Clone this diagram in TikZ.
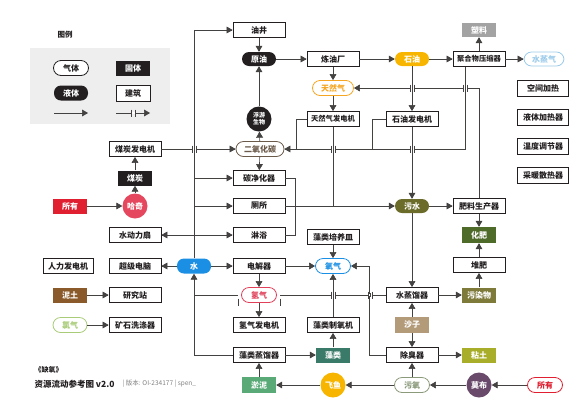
\documentclass[tikz,border=0pt]{standalone}
\usepackage{fontspec}
\setmainfont{Noto Sans CJK SC}
\usetikzlibrary{positioning,arrows}
\definecolor{ink}{HTML}{231F20}
\definecolor{legbg}{HTML}{EEEEEE}
\definecolor{petrol}{HTML}{F7B500}
\definecolor{ngas}{HTML}{F5A623}
\definecolor{plastc}{HTML}{A3A3A3}
\definecolor{steamc}{HTML}{9CCBEA}
\definecolor{co2c}{HTML}{6B5A4A}
\definecolor{waterc}{HTML}{1A8FE3}
\definecolor{hydc}{HTML}{E0405A}
\definecolor{sewc}{HTML}{6B6B2A}
\definecolor{fertc}{HTML}{4F6B2A}
\definecolor{pdirtc}{HTML}{7D7A3A}
\definecolor{sandc}{HTML}{B39B7A}
\definecolor{clayc}{HTML}{A8AE2A}
\definecolor{poxc}{HTML}{8A9A7A}
\definecolor{puftc}{HTML}{6A4A6A}
\definecolor{allc}{HTML}{E02030}
\definecolor{hatchc}{HTML}{E5475E}
\definecolor{dirtc}{HTML}{8B5A2B}
\definecolor{chlc}{HTML}{A9CC78}
\definecolor{slimec}{HTML}{5AAA78}
\definecolor{algaec}{HTML}{3A7A68}
\tikzstyle{bld}=[shape=rectangle, draw=ink, line width=0.8pt, fill=white, text=ink, minimum width=52pt, minimum height=15pt, inner sep=0pt, font=\fontsize{8}{9}\selectfont\bfseries]
\tikzstyle{gas}=[shape=rectangle, rounded corners=7.5pt, line width=0.8pt, fill=white, minimum width=35pt, minimum height=15pt, inner sep=0pt, font=\fontsize{8}{9}\selectfont\bfseries]
\tikzstyle{liq}=[shape=rectangle, rounded corners=7pt, minimum width=34pt, minimum height=14pt, inner sep=0pt, text=white, font=\fontsize{8}{9}\selectfont\bfseries]
\tikzstyle{sld}=[shape=rectangle, minimum width=34pt, minimum height=15pt, inner sep=0pt, text=white, font=\fontsize{8}{9}\selectfont\bfseries]
\tikzstyle{crt}=[shape=circle, minimum size=25pt, inner sep=0pt, text=white, font=\fontsize{8}{9}\selectfont\bfseries]
\tikzstyle{ln}=[draw=ink!85, line width=0.6pt]
\tikzstyle{arr}=[ln, -triangle 60]
% gap with two bars on a horizontal line, vertical line passing through
\newcommand{\brk}[2]{\fill[white] (#1-2,#2-1.2) rectangle (#1+2,#2+1.2);
  \draw[ln] (#1-2,#2-3.5) -- (#1-2,#2+3.5) (#1+2,#2-3.5) -- (#1+2,#2+3.5);}
\newcommand{\hop}[2]{\brk{#1}{#2}\draw[ln] (#1,#2-2) -- (#1,#2+2);}

\begin{document}
\begin{tikzpicture}[x=1pt,y=-1pt]
\useasboundingbox (0,0) rectangle (584,408);

% legend
\node (legtitle) [font=\fontsize{7.5}{9}\selectfont\bfseries, text=ink] at (65,35) {图例};
\fill[legbg] (30,48) rectangle (170,124);
\node (lgas) [gas, draw=ink, text=ink] at (71,68) {气体};
\node (lsol) [sld, fill=ink] at (133,68) {固体};
\node (lliq) [liq, fill=ink, minimum height=15pt] at (71,93) {液体};
\node (lbld) [bld, minimum width=34pt, minimum height=16pt] at (133,93) {建筑};
\coordinate (la1) at (54,113);
\coordinate (la2) at (88,113);
\coordinate (lb1) at (116,113);
\coordinate (lb2) at (150,113);
\draw[arr] (la1) -- (la2);
\draw[arr] (lb1) -- (lb2);
\brk{133}{113}

% oil column
\node (well) [bld] at (259,30) {油井};
\node (crude) [liq, fill=ink] at (259,59) {原油};
\node (plank) [crt, fill=ink, align=center, font=\fontsize{6}{7}\selectfont\bfseries] at (259,119) {浮游\\生物};
\node (co2) [gas, draw=co2c, text=co2c, minimum width=48pt] at (260,149) {二氧化碳};
\node (cpur) [bld] at (259,178) {碳净化器};
\node (toilet) [bld] at (259,206) {厕所};
\node (shower) [bld] at (259,235) {淋浴};
\node (elec) [bld] at (259,266) {电解器};
\node (hyd) [gas, draw=hydc, text=hydc] at (259,295) {氢气};
\node (hgen) [bld] at (259,325) {氢气发电机};
\node (adist) [bld] at (259,355) {藻类蒸馏器};
\node (slime) [sld, fill=slimec, minimum height=16pt] at (259,385) {淤泥};

% refinery column
\node (refin) [bld] at (333,59) {炼油厂};
\node (natgas) [gas, draw=ngas, text=ngas, minimum width=41pt] at (333,88) {天然气};
\node (ngen) [bld, font=\fontsize{7.3}{8}\selectfont\bfseries] at (333,119) {天然气发电机};
\node (terr) [bld] at (333,237) {藻类培养皿};
\node (oxy) [gas, draw=waterc, text=waterc] at (333,266) {氧气};
\node (aox) [bld] at (333,325) {藻类制氧机};
\node (algae) [sld, fill=algaec] at (333,355) {藻类};
\node (pacu) [crt, fill=petrol] at (333,385) {飞鱼};

% petroleum column
\node (petro) [liq, fill=petrol] at (412,59) {石油};
\node (pgen) [bld] at (412,119) {石油发电机};
\node (sewage) [liq, fill=sewc] at (412,206) {污水};
\node (wdist) [bld] at (412,295) {水蒸馏器};
\node (sand) [sld, fill=sandc, minimum height=16pt] at (412,325) {沙子};
\node (deod) [bld] at (412,355) {除臭器};
\node (pox) [gas, draw=poxc, text=poxc] at (412,385) {污氧};

% polymer column
\node (plast) [sld, fill=plastc, minimum height=14pt] at (479,30) {塑料};
\node (press) [bld, font=\fontsize{7.3}{8}\selectfont\bfseries] at (479,59) {聚合物压缩器};
\node (fert) [bld] at (479,206) {肥料生产器};
\node (fertz) [sld, fill=fertc, minimum height=16pt] at (479,235) {化肥};
\node (comp) [bld] at (479,265) {堆肥};
\node (pdirt) [sld, fill=pdirtc] at (479,295) {污染物};
\node (clay) [sld, fill=clayc] at (479,355) {粘土};
\node (puft) [crt, fill=puftc] at (479,385) {莫布};

% right column
\node (steam) [gas, draw=steamc, text=steamc, minimum width=40pt, minimum height=14pt] at (544,59) {水蒸气};
\node (heat1) [bld, minimum width=51pt, minimum height=16pt] at (543,88) {空间加热};
\node (heat2) [bld, minimum width=51pt, minimum height=16pt] at (543,117) {液体加热器};
\node (heat3) [bld, minimum width=51pt, minimum height=16pt] at (543,146) {温度调节器};
\node (heat4) [bld, minimum width=51pt, minimum height=16pt] at (543,175) {采暖散热器};
\node (allR) [gas, draw=allc, text=allc] at (545,385) {所有};

% left side
\node (cgen) [bld] at (135,149) {煤炭发电机};
\node (coal) [sld, fill=ink] at (135,178) {煤炭};
\node (hatch) [crt, fill=hatchc] at (135,206) {哈奇};
\node (allL) [sld, fill=allc] at (70,206) {所有};
\node (fan) [bld] at (135,235) {水动力扇};
\node (scomp) [bld] at (135,266) {超级电脑};
\node (mgen) [bld, minimum width=50pt] at (68,266) {人力发电机};
\node (water) [liq, fill=waterc, minimum height=15pt] at (194,266) {水};
\node (dirt) [sld, fill=dirtc] at (70,295) {泥土};
\node (rsta) [bld] at (135,295) {研究站};
\node (chl) [gas, draw=chlc, text=chlc, minimum width=34pt] at (70,325) {氯气};
\node (scrub) [bld] at (135,325) {矿石洗涤器};

% water trunk
\draw[arr] (water.north) |- (well.west);
\draw[arr] (water.north |- cpur.west) -- (cpur.west);
\draw[arr] (water.north |- toilet.west) -- (toilet.west);
\draw[arr] (water.north |- shower.west) -- (shower.west);
\draw[arr] (water.north |- fan.east) -- (fan.east);
\draw[arr] (water.west) -- (scomp.east);
\draw[arr] (water.east) -- (elec.west);
\draw[arr] (adist.west) -| (water.south);

% oil
\draw[arr] (well) -- (crude);
\draw[arr] (crude) -- (refin);
\draw[arr] (refin) -- (natgas);
\draw[arr] (natgas) -- (ngen);
\draw[arr] (refin) -- (petro);
\draw[arr] (petro) -- (press);
\draw[arr] (press) -- (plast);
\draw[arr] (press) -- (steam);
\draw[arr] (petro) -- (pgen);
\draw[arr] (fert.north) |- (natgas.east);

% carbon dioxide
\draw[arr] (co2) -- (plank);
\draw[arr] (plank) -- (crude);
\draw[arr] (co2) -- (cpur);
\draw[arr] (cgen) -- (co2);
\draw[arr] ([xshift=-14pt]press.south) |- (co2.east);
\draw[ln] (ngen.west) -- ++(-10,0) -- ++(0,30);
\draw[ln] (pgen.west) -- ++(-13,0) -- ++(0,30);

% polluted water
\draw[arr] (toilet) -- (sewage);
\draw[ln] (cpur.east) -- ++(10,0) -- ++(0,57);
\draw[ln] (shower.east) -- ++(10,0) -- ++(0,-29);
\draw[ln] (ngen.south) -- (ngen.south |- toilet.east);
\draw[arr] (pgen) -- (sewage);
\draw[arr] (sewage) -- (fert);
\draw[arr] (sewage) -- (wdist);
\draw[arr] (fert) -- (fertz);
\draw[arr] (comp) -- (fertz);
\draw[arr] (pdirt) -- (comp);
\draw[arr] (wdist) -- (pdirt);
\draw[ln] (wdist.west) -- ([xshift=3pt]hyd.east);
\draw[ln] ([xshift=-3pt]hyd.west) -- (water.south |- hyd.west);
\draw[ln] ([xshift=3pt,yshift=-3.5pt]hyd.east) -- ++(0,7);
\draw[ln] ([xshift=-3pt,yshift=-3.5pt]hyd.west) -- ++(0,7);

% oxygen and hydrogen
\draw[arr] (elec) -- (oxy);
\draw[arr] (elec) -- (hyd);
\draw[arr] (hyd) -- (hgen);
\draw[arr] (terr) -- (oxy);
\draw[arr] (aox) -- (oxy);
\draw[arr] (deod.west) -- ++(-16,0) |- (oxy.east);
\draw[arr] (algae) -- (aox);
\draw[arr] (adist) -- (algae);
\draw[arr] (slime) -- (adist);
\draw[arr] (pacu) -- (slime);
\draw[arr] (pox) -- (pacu);
\draw[arr] (puft) -- (pox);
\draw[arr] (allR) -- (puft);
\draw[arr] (pox) -- (deod);
\draw[arr] (deod) -- (clay);
\draw[arr] (sand) -- (deod);
\draw[arr] (sand) -- (wdist);

% left
\draw[arr] (allL) -- (hatch);
\draw[arr] (hatch) -- (coal);
\draw[arr] (coal) -- (cgen);
\draw[arr] (dirt) -- (rsta);
\draw[arr] (chl) -- (scrub);

% crossings
\hop{465}{88}
\hop{412}{88}
\hop{412}{149}
\hop{333}{149}
\hop{194}{149}
\hop{370}{295}
\hop{333}{295}

% caption
\node (game) [anchor=west, text=ink, font=\fontsize{7}{8}\selectfont\bfseries] at (31,370) {《缺氧》};
\node (title) [anchor=west, text=ink, font=\fontsize{8.5}{10}\selectfont\bfseries] at (31,384) {资源流动参考图 v2.0};
\node (ver) [right=1pt of title, text=gray, font=\fontsize{6.5}{8}\selectfont] {| 版本: OI-234177 | spen\_};
\end{tikzpicture}
\end{document}
